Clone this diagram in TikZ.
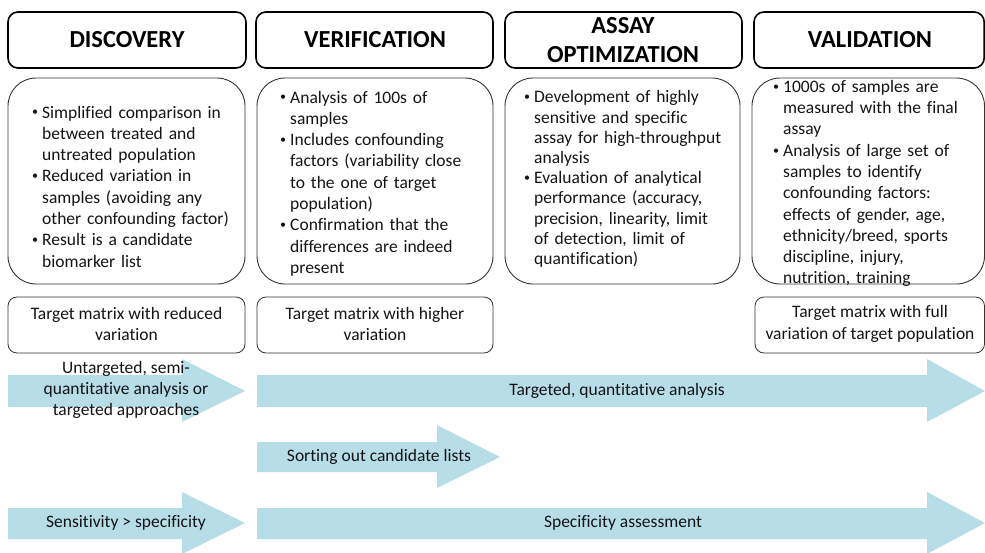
\documentclass[tikz,border=0pt]{standalone}
\usepackage{fontspec}
\setmainfont{Carlito}[Ligatures=NoCommon]
\definecolor{arrowblue}{RGB}{183,221,232}
\definecolor{txt}{RGB}{20,20,20}
\newcommand\bul{\par\noindent\hangindent=10pt\hangafter=1\makebox[10pt][l]{\raisebox{0.12em}{\fontsize{12}{12}\selectfont •}}}
\newcommand\nl{\break}
\tikzset{
  headbox/.style={draw=black, line width=1.6pt, rounded corners=10pt},
  contbox/.style={draw=black!80, line width=0.9pt, rounded corners=28pt},
  matbox/.style={draw=black!80, line width=0.8pt, rounded corners=9pt},
  arr/.style={fill=arrowblue, draw=none},
  headtxt/.style={font=\fontsize{24.5}{29}\selectfont\bfseries, text=black, align=center, inner sep=0pt},
  bodytxt/.style={font=\fontsize{17.5}{21.3}\selectfont, text=txt, align=left, text width=230pt, inner sep=0pt, anchor=west},
  plaintxt/.style={font=\fontsize{17.5}{21.5}\selectfont, text=txt, align=center, inner sep=0pt},
}
\begin{document}
\begin{tikzpicture}[x=1pt,y=-1pt]
\useasboundingbox (0,0) rectangle (985,552);
% header boxes
\draw[headbox] (8,12) rectangle (246,68);
\draw[headbox] (256,12) rectangle (493,68);
\draw[headbox] (505,12) rectangle (742,68);
\draw[headbox] (754,12) rectangle (984.2,68);
\node[headtxt] (h1) at (127,40) {DISCOVERY};
\node[headtxt] (h2) at (375,40) {VERIFICATION};
\node[headtxt] (h3) at (623,40) {ASSAY\\OPTIMIZATION};
\node[headtxt] (h4) at (870,40) {VALIDATION};
% content boxes
\draw[contbox] (8,78) rectangle (245,284);
\draw[contbox] (257,78) rectangle (493,284);
\draw[contbox] (505,78) rectangle (740,284);
\draw[contbox] (752,78) rectangle (984.5,284);
\node[bodytxt] (c1) at (32,182) {\bul Simplified comparison in\nl between treated and\nl untreated population\bul Reduced variation in\nl samples (avoiding any\nl other confounding factor)\bul Result is a candidate\nl biomarker list\par};
\node[bodytxt] (c2) at (280,179) {\bul Analysis of 100s of\nl samples\bul Includes confounding\nl factors (variability close\nl to the one of target\nl population)\bul Confirmation that the\nl differences are indeed\nl present\par};
\node[bodytxt, font=\fontsize{17.5}{20.2}\selectfont] (c3) at (524,175) {\bul Development of highly\nl sensitive and specific\nl assay for high-throughput\nl analysis\bul Evaluation of analytical\nl performance (accuracy,\nl precision, linearity, limit\nl of detection, limit of\nl quantification)\par};
\node[bodytxt] (c4) at (773,179) {\bul 1000s of samples are\nl measured with the final\nl assay\bul Analysis of large set of\nl samples to identify\nl confounding factors:\nl effects of gender, age,\nl ethnicity/breed, sports\nl discipline, injury,\nl nutrition, training\par};
% target matrix boxes
\draw[matbox] (8,297) rectangle (245,353);
\draw[matbox] (257,297) rectangle (493,353);
\draw[matbox] (755,297) rectangle (984.5,353);
\node[plaintxt] (m1) at (126.5,324) {Target matrix with reduced\\variation};
\node[plaintxt] (m2) at (375,324) {Target matrix with higher\\variation};
\node[plaintxt] (m4) at (870,324) {Target matrix with full\\variation of target population};
% arrows
\fill[arr] (8,375) -- (182,375) -- (182,359) -- (245,391) -- (182,422) -- (182,407) -- (8,407) -- cycle;
\fill[arr] (257,375) -- (927,375) -- (927,359) -- (985,391) -- (927,422) -- (927,407) -- (257,407) -- cycle;
\fill[arr] (257,442) -- (437,442) -- (437,425) -- (500,457) -- (437,488) -- (437,472) -- (257,472) -- cycle;
\fill[arr] (8,508) -- (182,508) -- (182,492) -- (245,523) -- (182,554) -- (182,539) -- (8,539) -- cycle;
\fill[arr] (257,508) -- (927,508) -- (927,492) -- (985,523) -- (927,554) -- (927,539) -- (257,539) -- cycle;
\node[plaintxt, font=\fontsize{17.5}{21}\selectfont] (a1) at (126,390) {Untargeted, semi-\\quantitative analysis or\\targeted approaches};
\node[plaintxt] (a2) at (617,391) {Targeted, quantitative analysis};
\node[plaintxt] (a3) at (379,457) {Sorting out candidate lists};
\node[plaintxt] (a4) at (126,523) {Sensitivity > specificity};
\node[plaintxt] (a5) at (623,523) {Specificity assessment};
\end{tikzpicture}
\end{document}
